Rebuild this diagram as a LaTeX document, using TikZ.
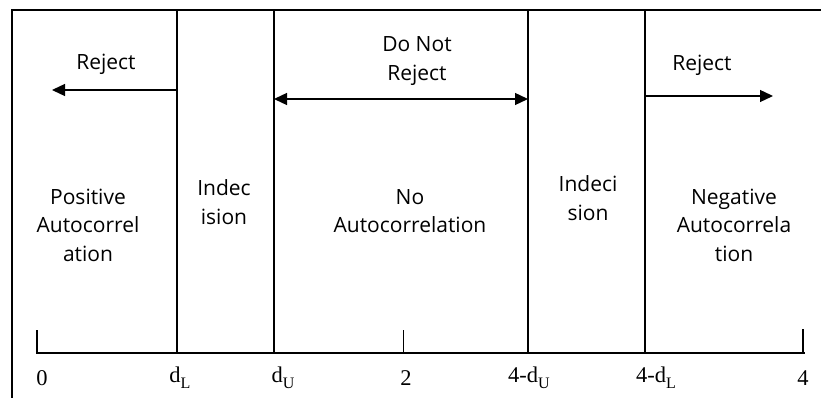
\documentclass[tikz,border=0pt]{standalone}
\usepackage{fontspec}
\setmainfont{Open Sans}
\newfontfamily\serifnum{Liberation Serif}
\usetikzlibrary{arrows.meta}
\newcommand{\sbs}[1]{\raisebox{-0.25em}{\fontsize{16}{16}\selectfont #1}}
\begin{document}
\begin{tikzpicture}[x=1pt,y=-1pt,
  lbl/.style={font=\fontsize{21}{28.5}\selectfont, align=center, inner sep=0pt},
  axl/.style={font=\serifnum\fontsize{22.5}{24}\selectfont, inner sep=0pt},
  divline/.style={line width=1.5pt},
  arr/.style={line width=1.3pt, -{Triangle[length=13pt,width=12pt]}},
  darr/.style={line width=1.3pt, {Triangle[length=13pt,width=12pt]}-{Triangle[length=13pt,width=12pt]}}]
\useasboundingbox (0,0) rectangle (821,398);
% frame
\draw[line width=1.7pt] (821,10) -- (12,10) -- (12,398);
% division lines
\coordinate (t1) at (177,10); \coordinate (b1) at (177,353);
\coordinate (t2) at (274,10); \coordinate (b2) at (274,353);
\coordinate (t3) at (528,10); \coordinate (b3) at (528,353);
\coordinate (t4) at (645,10); \coordinate (b4) at (645,353);
\draw[divline] (t1) -- (b1);
\draw[divline] (t2) -- (b2);
\draw[divline] (t3) -- (b3);
\draw[divline] (t4) -- (b4);
% axis
\coordinate (a0) at (36,353); \coordinate (a4) at (805,353);
\draw[line width=1.8pt] (a0) -- (a4);
\draw[line width=1.6pt] (37,330) -- (37,353);
\draw[line width=0.8pt] (403,330) -- (403,353);
\draw[line width=1.6pt] (803,329) -- (803,353);
% axis labels
\node[axl] (l0) at (42,378) {0};
\node[axl] (l1) at (180,378) {d\sbs{L}};
\node[axl] (l2) at (283,378) {d\sbs{U}};
\node[axl] (l3) at (406,378) {2};
\node[axl] (l4) at (529,378) {4-d\sbs{U}};
\node[axl] (l5) at (656,378) {4-d\sbs{L}};
\node[axl] (l6) at (803,378) {4};
% arrows
\coordinate (r1s) at (177,90); \coordinate (r1e) at (52,90);
\draw[arr] (r1s) -- (r1e);
\coordinate (r2s) at (274,99); \coordinate (r2e) at (528,99);
\draw[darr] (r2s) -- (r2e);
\coordinate (r3s) at (645,96); \coordinate (r3e) at (773,96);
\draw[arr] (r3s) -- (r3e);
% arrow labels
\node[lbl] (rej1) at (106,64) {Reject};
\node[lbl] (dnr) at (417,61) {Do Not\\Reject};
\node[lbl] (rej3) at (702,65) {Reject};
% region labels
\node[lbl] (pos) at (88,225) {Positive\\Autocorrel\\ation};
\node[lbl] (ind1) at (224,202) {Indec\\ision};
\node[lbl] (noa) at (410,211) {No\\Autocorrelation};
\node[lbl] (ind2) at (588,198) {Indeci\\sion};
\node[lbl] (neg) at (734,225) {Negative\\Autocorrela\\tion};
\end{tikzpicture}
\end{document}
